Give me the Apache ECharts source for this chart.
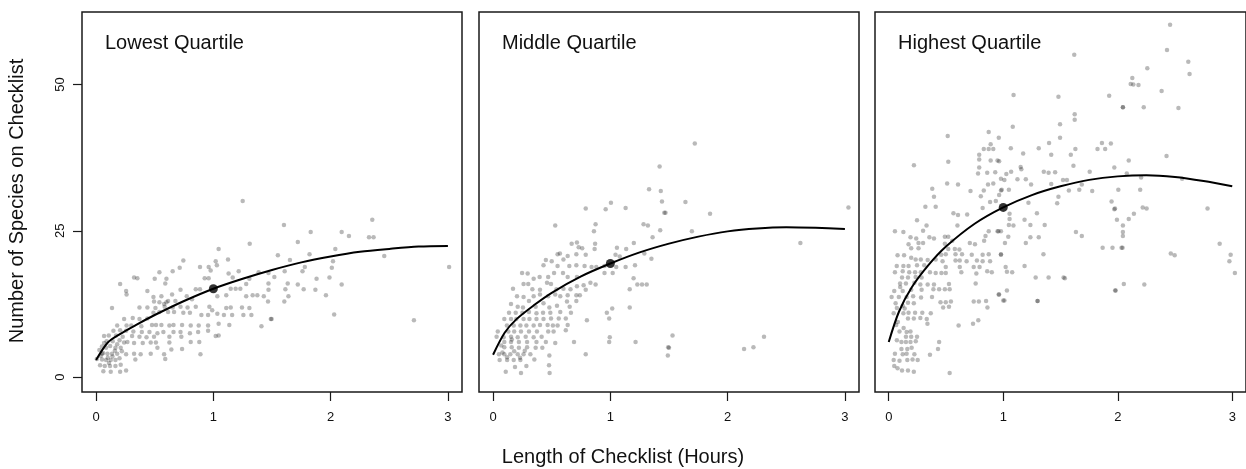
<!DOCTYPE html>
<html>
<head>
<meta charset="utf-8">
<script src="https://cdn.jsdelivr.net/npm/echarts@6/dist/echarts.min.js"></script>
<style>
html,body{margin:0;padding:0;background:#fff;}
#chart{width:1246px;height:469px;}
</style>
</head>
<body>
<div id="chart"></div>
<script>
// ---------- DATA ----------
const panelTitles = ['Lowest Quartile', 'Middle Quartile', 'Highest Quartile'];
const xTicks = [0, 1, 2, 3];
const yTicks = [0, 25, 50];
const xTitle = 'Length of Checklist (Hours)';
const yTitle = 'Number of Species on Checklist';

const lowestPoints = [
[1.25,30.1],[1.31,22.8],[1.045,21.9],[1.125,20.1],[0.744,19.9],[1.02,19.8],[0.886,18.8],[0.96,18.8],[0.713,18.7],[0.54,17.9],
[0.653,18.1],[0.977,18.2],[1.03,19.1],[1.13,17.7],[1.216,18.1],[1.386,17.9],[0.324,17.0],[0.352,16.9],[0.5,16.8],[0.6,16.8],
[0.926,16.9],[0.96,16.9],[1.165,17.0],[1.307,16.8],[1.47,17.8],[0.205,15.9],[0.59,16.0],[0.72,14.9],[0.85,15.0],[0.886,15.0],
[0.256,14.7],[0.26,14.1],[0.4375,14.7],[0.648,14.1],[0.489,13.7],[0.557,13.8],[0.773,13.8],[0.818,13.3],[1.11,14.0],[1.148,15.1],
[1.19,15.1],[1.23,15.1],[1.28,15.9],[1.28,13.8],[1.335,14.0],[1.375,14.0],[1.43,13.8],[1.47,14.9],[1.47,16.0],[1.466,12.9],
[1.034,13.8],[0.614,13.0],[0.676,13.0],[0.494,12.9],[0.54,12.8],[0.58,12.5],[0.6,12.8],[0.136,11.8],[0.37,11.9],[0.4375,11.9],
[0.506,11.8],[0.585,12.0],[0.653,11.9],[0.72,12.0],[0.78,11.9],[0.85,12.0],[0.966,12.0],[0.99,11.4],[1.11,11.8],[1.148,11.9],
[1.244,11.9],[1.307,11.8],[0.489,11.0],[0.54,11.1],[0.614,11.1],[0.665,11.1],[0.744,11.0],[0.80,11.0],[0.898,10.6],[0.955,10.6],
[1.034,10.8],[1.09,10.6],[1.16,10.6],[1.256,10.6],[1.324,10.6],[1.49,9.9],[1.41,8.7],[0.18,8.8],[0.239,9.9],[0.3125,10.1],
[0.37,9.9],[0.4375,10.0],[0.26,8.8],[0.30,8.8],[0.386,8.7],[0.477,8.9],[0.511,8.9],[0.557,8.9],[0.625,8.8],[0.66,8.9],
[0.733,8.9],[0.807,8.8],[0.875,8.8],[0.955,8.8],[1.045,9.1],[1.136,8.9],[0.148,7.9],[0.205,8.0],[0.256,7.9],[0.318,7.8],
[0.39,7.7],[0.455,7.7],[0.523,7.5],[0.574,7.7],[0.66,7.7],[0.72,7.7],[0.80,7.5],[0.87,7.7],[0.955,7.9],[1.02,7.0],
[1.045,7.1],[0.068,7.0],[0.108,7.1],[0.17,7.1],[0.227,6.9],[0.307,7.0],[0.37,6.9],[0.43,6.8],[0.494,6.9],[0.625,6.9],
[0.727,6.9],[0.625,5.9],[0.51,5.9],[0.466,5.9],[0.398,5.8],[0.324,5.8],[0.267,6.0],[0.239,5.9],[0.142,6.1],[0.068,5.8],
[0.807,6.0],[0.88,6.0],[0.733,4.8],[0.642,4.7],[0.523,5.0],[0.466,4.0],[0.38,3.9],[0.324,4.0],[0.256,3.9],[0.18,4.0],
[0.136,4.0],[0.097,4.0],[0.051,4.0],[0.028,4.6],[0.085,5.0],[0.165,5.0],[0.21,5.0],[0.006,3.1],[0.051,3.0],[0.085,2.9],
[0.125,2.9],[0.165,2.9],[0.58,3.9],[0.59,3.1],[0.89,3.9],[0.335,3.0],[0.034,2.0],[0.074,1.9],[0.119,1.9],[0.165,1.9],
[0.21,2.1],[0.062,1.0],[0.125,0.9],[0.205,0.9],[0.256,1.1],[0.06,4.1],[0.1,3.3],[0.14,3.5],[0.2,3.2],[0.05,5.2],
[0.09,6.1],[0.12,5.3],[0.18,5.6],[0.22,4.4],[0.04,3.6],[0.11,2.4],[0.16,4.5],[0.2,6.3],
[1.602,26.0],[2.355,26.9],[1.83,24.8],[2.094,24.8],[2.156,24.1],[2.327,23.9],[2.366,23.9],[1.72,23.1],[2.04,21.9],[1.55,20.8],
[1.82,21.0],[1.653,20.0],[2.02,19.8],[2.457,20.7],[2.01,18.7],[1.78,18.8],[1.76,18.1],[1.608,18.1],[1.52,17.1],[1.88,16.8],
[1.99,17.0],[3.01,18.8],[1.634,16.0],[1.72,15.8],[2.094,15.8],[1.614,15.0],[1.77,15.0],[1.87,14.9],[1.96,14.0],[1.64,13.8],
[1.605,12.9],[2.03,10.7],[2.71,9.7],[1.497,9.9]
];

const middlePoints = [
[1.42,36.0],[1.33,32.1],[1.43,31.8],[1.44,30.0],[1.46,28.1],[1.005,29.8],[0.96,28.7],[0.79,28.8],[1.13,28.9],[0.53,25.9],
[0.874,26.1],[0.86,24.9],[1.283,26.1],[1.32,25.9],[1.425,25.1],[1.36,23.9],[0.67,22.8],[0.715,23.0],[0.73,22.2],[0.76,22.0],
[0.87,22.8],[0.866,21.9],[1.056,22.1],[1.135,21.9],[1.20,22.9],[1.29,21.1],[1.35,20.2],[0.55,21.0],[0.57,21.1],[0.636,20.7],
[0.71,21.0],[0.79,20.9],[1.044,20.9],[1.08,20.6],[0.45,20.0],[0.5,19.8],[0.55,19.0],[0.60,20.1],[0.65,19.0],[0.71,19.1],
[0.78,19.0],[0.84,18.8],[0.88,18.8],[0.95,19.0],[0.43,19.1],[1.05,18.8],[1.13,18.8],[1.21,19.1],[0.95,17.8],[1.02,17.8],
[0.247,17.8],[0.295,17.7],[0.346,16.8],[0.397,17.1],[0.47,17.1],[0.52,17.8],[0.596,17.8],[0.636,17.1],[0.715,17.1],[1.198,16.9],
[1.23,15.8],[1.27,15.8],[1.31,15.8],[0.772,15.7],[0.83,16.1],[0.874,15.8],[0.26,15.9],[0.30,15.9],[0.335,15.0],[0.40,14.9],
[0.46,16.1],[0.494,15.9],[0.54,15.0],[0.60,15.1],[0.66,15.0],[0.715,15.5],[0.79,14.9],[1.165,15.0],[0.17,15.1],[0.204,13.8],
[0.26,13.7],[0.346,13.8],[0.40,14.1],[0.47,13.8],[0.53,14.1],[0.573,13.8],[0.636,14.0],[0.71,14.0],[0.74,14.0],[0.153,12.5],
[0.21,12.0],[0.255,11.9],[0.306,13.0],[0.363,12.0],[0.43,12.6],[0.48,11.9],[0.545,12.2],[0.63,12.9],[0.653,12.0],[0.71,13.0],
[0.136,11.0],[0.193,11.0],[0.25,11.0],[0.306,11.1],[0.37,10.9],[0.426,11.0],[0.488,11.0],[0.573,11.1],[0.664,11.0],[0.97,11.0],
[1.016,11.7],[1.165,11.9],[0.096,9.9],[0.153,9.9],[0.198,9.9],[0.26,9.9],[0.31,9.9],[0.37,9.9],[0.43,9.9],[0.494,10.0],
[0.56,10.0],[0.62,10.0],[0.80,9.7],[0.99,10.0],[0.118,8.8],[0.176,8.8],[0.233,8.8],[0.284,8.8],[0.346,8.8],[0.40,8.9],
[0.465,8.9],[0.51,8.8],[0.55,8.8],[0.636,8.9],[0.04,7.8],[0.13,7.8],[0.18,7.8],[0.238,7.8],[0.306,7.8],[0.374,7.8],
[0.47,7.8],[0.516,7.8],[0.62,8.0],[0.03,6.9],[0.09,6.8],[0.153,6.9],[0.21,6.8],[0.278,6.9],[0.346,6.8],[0.414,6.9],
[0.096,6.0],[0.153,6.0],[0.22,6.0],[0.29,6.0],[0.37,6.0],[0.45,6.0],[0.53,5.8],[0.69,6.0],[0.99,6.0],[1.215,6.0],
[0.995,6.8],[0.096,5.1],[0.159,5.1],[0.22,5.0],[0.29,5.1],[0.363,5.0],[0.42,5.0],[0.05,3.9],[0.096,3.9],[0.147,3.9],
[0.21,3.9],[0.26,3.9],[0.318,3.9],[0.79,3.9],[0.48,3.7],[0.056,2.9],[0.12,2.9],[0.176,2.9],[0.233,2.9],[0.352,3.0],
[0.284,1.9],[0.187,1.7],[0.477,2.0],[0.108,0.9],[0.238,0.7],[0.482,0.7],[1.493,5.1],[1.49,3.7],[0.08,4.2],[0.18,4.4],
[0.12,3.4],[0.23,3.3],[0.07,5.4],[0.16,6.4],[0.27,4.5],
[1.72,39.9],[1.64,29.9],[1.85,27.9],[1.47,28.1],[1.695,24.9],[3.03,29.0],[2.62,22.9],[1.53,7.1],[1.50,5.0],[2.14,4.8],
[2.22,5.1],[2.31,6.9]
];

const highestPoints = [
[0.515,41.2],[0.873,41.9],[0.89,39.8],[0.83,39.0],[0.873,39.0],[0.913,39.0],[0.79,38.0],[0.79,37.2],[0.89,37.0],[0.95,37.0],
[0.22,36.2],[0.52,36.8],[0.79,35.8],[0.78,34.8],[0.86,34.9],[0.93,35.0],[0.51,33.1],[0.605,32.9],[0.38,32.2],[0.714,31.8],
[0.83,31.9],[0.867,32.9],[0.913,33.1],[0.98,31.9],[0.395,30.8],[0.804,30.9],[0.885,29.9],[0.935,30.1],[0.32,29.1],[0.41,29.1],
[0.82,28.9],[0.565,28.0],[0.605,27.7],[0.685,27.8],[0.247,26.8],[0.6,25.9],[0.33,25.9],[0.30,25.0],[0.054,24.9],[0.128,24.8],
[0.873,24.9],[0.95,24.9],[0.845,24.1],[0.19,23.9],[0.24,23.7],[0.30,22.9],[0.26,22.9],[0.355,23.9],[0.49,24.0],[0.52,24.0],
[0.49,22.8],[0.555,23.3],[0.173,22.7],[0.196,22.0],[0.26,22.0],[0.395,23.7],[0.708,22.9],[0.753,22.7],[0.833,23.3],[0.52,21.9],
[0.577,21.9],[0.617,21.8],[0.458,20.9],[0.498,21.0],[0.583,21.0],[0.64,21.0],[0.725,20.9],[0.82,20.9],[0.873,21.0],[0.98,20.9],
[0.077,20.8],[0.134,20.8],[0.196,20.4],[0.235,20.1],[0.28,20.1],[0.34,20.0],[0.41,20.1],[0.47,19.8],[0.583,19.9],[0.62,19.9],
[0.68,19.8],[0.77,19.9],[0.82,19.8],[0.885,19.8],[0.07,19.0],[0.128,19.0],[0.173,19.0],[0.247,19.1],[0.31,19.1],[0.498,18.8],
[0.62,18.8],[0.742,18.8],[0.793,18.8],[0.86,18.1],[0.9,17.9],[0.054,17.9],[0.122,18.1],[0.179,17.9],[0.23,17.9],[0.28,17.9],
[0.36,17.9],[0.41,17.8],[0.46,17.8],[0.498,17.8],[0.634,17.9],[0.765,17.7],[0.116,17.0],[0.168,17.0],[0.235,17.1],[0.287,17.0],
[0.099,16.0],[0.15,16.0],[0.224,16.1],[0.276,15.8],[0.34,15.8],[0.395,15.8],[0.526,15.9],[0.759,16.0],[0.44,15.0],[0.49,15.0],
[0.532,15.0],[0.048,14.7],[0.122,14.7],[0.196,14.9],[0.287,14.9],[0.39,15.0],[0.025,13.7],[0.088,13.7],[0.156,13.7],[0.213,13.8],
[0.282,13.6],[0.378,13.7],[0.452,12.8],[0.498,12.8],[0.543,12.9],[0.742,12.9],[0.787,12.9],[0.85,13.0],[0.168,12.7],[0.219,12.6],
[0.122,12.2],[0.475,11.9],[0.526,12.0],[0.862,11.9],[0.071,11.8],[0.139,11.7],[0.043,10.9],[0.128,10.9],[0.173,11.0],[0.23,11.0],
[0.293,11.0],[0.367,10.9],[0.168,10.0],[0.219,10.0],[0.276,10.1],[0.332,9.9],[0.338,9.1],[0.61,8.8],[0.736,9.1],[0.782,9.7],
[0.065,8.9],[0.094,7.8],[0.156,7.7],[0.19,7.8],[0.15,6.9],[0.196,6.9],[0.247,6.9],[0.071,6.3],[0.111,6.0],[0.15,6.0],
[0.19,6.0],[0.236,6.1],[0.44,6.0],[0.111,4.8],[0.162,4.8],[0.2,5.0],[0.43,4.8],[0.054,4.0],[0.122,3.9],[0.156,4.0],
[0.224,3.9],[0.36,3.8],[0.043,2.9],[0.094,2.8],[0.162,2.9],[0.208,3.0],[0.253,2.9],[0.048,1.9],[0.077,1.5],[0.116,1.1],
[0.168,1.1],[0.219,0.9],[0.532,0.7],[1.3,13.0],[0.96,14.1],[1.0,13.1],[0.08,9.4],[0.13,8.4],[0.06,12.6],[0.1,15.4],
[1.62,55.1],[1.09,48.2],[1.482,47.9],[1.925,48.1],[2.045,46.1],[1.624,44.9],[1.624,44.0],[1.496,43.2],[1.083,42.8],[1.496,40.9],
[0.961,40.9],[1.40,40.0],[1.862,40.0],[1.94,39.9],[1.066,39.1],[1.31,39.1],[1.823,39.0],[1.89,39.0],[1.63,39.0],[1.174,38.2],
[1.419,38.0],[1.59,38.0],[0.964,36.9],[1.613,36.1],[1.152,35.9],[1.158,35.5],[1.97,35.8],[1.354,35.1],[1.396,34.9],[1.453,35.0],
[1.069,35.1],[1.027,34.7],[1.755,35.1],[0.98,33.9],[1.01,33.7],[1.124,33.8],[1.197,33.8],[1.243,32.9],[1.419,33.0],[1.522,33.7],
[1.556,33.7],[1.686,32.9],[2.005,32.0],[1.573,31.9],[1.664,32.0],[1.777,31.8],[1.049,32.0],[0.987,32.0],[0.964,31.1],[1.482,30.8],
[1.471,29.7],[1.22,29.8],[1.946,30.0],[1.055,27.9],[1.294,28.0],[1.97,28.7],[1.055,27.0],[1.186,26.9],[1.993,26.9],[1.049,26.0],
[1.089,25.9],[1.237,26.0],[1.362,26.0],[0.958,24.9],[0.98,24.9],[1.635,24.8],[1.686,24.1],[1.237,23.9],[1.31,23.9],[1.044,24.0],
[1.197,22.9],[1.015,22.9],[0.98,21.0],[1.351,21.0],[1.868,22.1],[1.954,22.1],[2.033,22.1],[1.186,19.0],[1.021,18.8],[1.032,18.0],
[1.078,17.9],[1.283,17.0],[1.396,17.0],[1.527,17.0],[1.538,16.9],[1.977,14.8],[0.964,14.1],[1.032,14.8],[1.01,13.1],[1.299,13.0],
[2.457,60.2],[2.43,55.9],[2.616,53.9],[2.627,51.8],[2.258,52.8],[2.127,51.1],[2.113,50.1],[2.136,50.0],[2.181,49.9],[2.383,48.9],
[2.045,46.1],[2.227,46.1],[2.53,46.0],[2.426,37.8],[2.096,37.0],[2.079,34.8],[2.204,34.1],[2.562,33.9],[2.196,32.0],
[2.218,29.0],[2.252,28.8],[1.976,28.8],[2.784,28.8],[2.141,27.9],[2.096,27.0],[2.045,25.9],[2.045,24.8],[2.045,24.1],
[2.042,22.1],[2.89,22.8],[2.463,21.1],[2.497,20.8],[2.986,20.9],[2.975,19.8],[3.023,17.8],[2.053,15.9],[2.232,15.8],[1.982,14.8]
];

const lowestCurve = [[0,2.9],[0.1,5.9],[0.2,7.3],[0.35,9.0],[0.5,10.6],[0.75,13.0],[1,15.1],[1.25,16.8],[1.5,18.3],[1.75,19.6],[2,20.6],[2.25,21.4],[2.5,21.9],[2.75,22.3],[3,22.4]];
const middleCurve = [[0,3.8],[0.1,7.6],[0.2,9.9],[0.35,12.3],[0.5,14.4],[0.75,17.2],[1,19.4],[1.25,21.3],[1.5,22.8],[1.75,24.0],[2,24.9],[2.25,25.4],[2.5,25.6],[2.75,25.5],[3,25.3]];
const highestCurve = [[0,6.0],[0.09,11.2],[0.2,15.3],[0.35,19.2],[0.5,22.3],[0.75,26.2],[1,29.0],[1.25,31.1],[1.5,32.6],[1.75,33.7],[2,34.3],[2.25,34.5],[2.5,34.2],[2.75,33.5],[3,32.6]];
const oneHourValues = [15.1, 19.4, 29.0];

// ---------- CHART ----------
const FONT = '"Liberation Sans", Arial, sans-serif';
const pointsAll = [lowestPoints, middlePoints, highestPoints];
const curvesAll = [lowestCurve, middleCurve, highestCurve];
const gridLefts = [82, 479, 875];

const grids = [], xAxes = [], yAxes = [], series = [], graphics = [];
for (let i = 0; i < 3; i++) {
  grids.push({left: gridLefts[i], top: 12, width: 380, height: 380, show: true,
    borderColor: '#1a1a1a', borderWidth: 1.5, backgroundColor: 'transparent', containLabel: false});
  xAxes.push({type: 'value', gridIndex: i, min: -0.12, max: 3.12, position: 'bottom',
    axisLine: {show: false, onZero: false}, splitLine: {show: false},
    axisTick: {show: true, inside: false, length: 9, customValues: xTicks, lineStyle: {color: '#1a1a1a', width: 1.2}},
    axisLabel: {show: true, customValues: xTicks, margin: 19, fontSize: 13, color: '#111', fontFamily: FONT}});
  yAxes.push({type: 'value', gridIndex: i, min: -2.56, max: 62.4, position: 'left',
    axisLine: {show: false, onZero: false}, splitLine: {show: false},
    axisTick: {show: i === 0, inside: false, length: 9, customValues: yTicks, lineStyle: {color: '#1a1a1a', width: 1.2}},
    axisLabel: {show: i === 0, customValues: yTicks, rotate: 90, margin: 15, fontSize: 13, color: '#111', fontFamily: FONT}});
  series.push({type: 'scatter', xAxisIndex: i, yAxisIndex: i, data: pointsAll[i], symbol: 'circle', symbolSize: 4.5,
    itemStyle: {color: 'rgba(0,0,0,0.34)'}, silent: true, z: 2});
  series.push({type: 'line', xAxisIndex: i, yAxisIndex: i, data: curvesAll[i], showSymbol: false, smooth: 0.3,
    lineStyle: {color: '#000', width: 2}, silent: true, z: 3});
  series.push({type: 'scatter', xAxisIndex: i, yAxisIndex: i, data: [[1, oneHourValues[i]]], symbol: 'circle', symbolSize: 9,
    itemStyle: {color: '#000'}, silent: true, z: 4});
  graphics.push({type: 'text', left: gridLefts[i] + 23, top: 33,
    style: {text: panelTitles[i], font: '20px ' + FONT, fill: '#111'}});
}
graphics.push({type: 'text', left: 'center', top: 447,
  style: {text: xTitle, font: '20px ' + FONT, fill: '#111'}});
graphics.push({type: 'text', x: 7, y: 201, rotation: Math.PI / 2,
  style: {text: yTitle, font: '20px ' + FONT, fill: '#111', align: 'center', verticalAlign: 'top'}});

const chart = echarts.init(document.getElementById('chart'), null, {renderer: 'canvas'});
chart.setOption({
  animation: false,
  backgroundColor: '#fff',
  grid: grids, xAxis: xAxes, yAxis: yAxes, series: series, graphic: graphics
});
</script>
</body>
</html>
